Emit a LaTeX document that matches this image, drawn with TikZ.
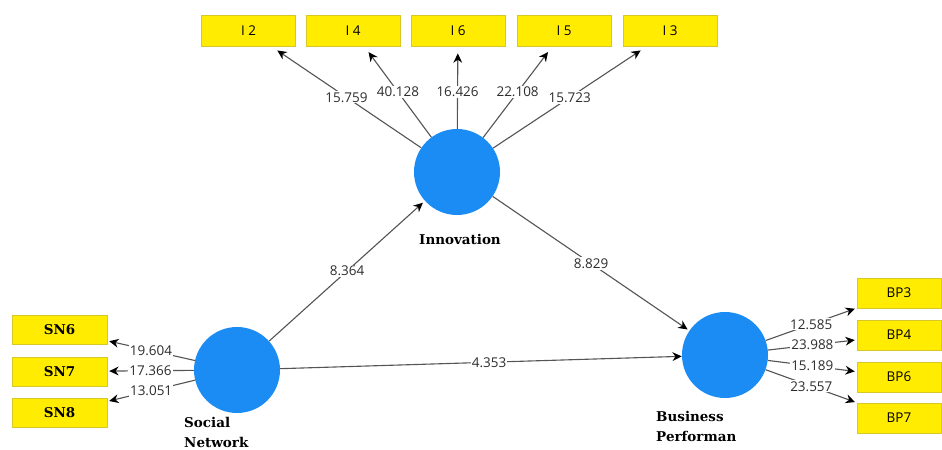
\documentclass[tikz,border=0pt]{standalone}
\usepackage{fontspec}
\setmainfont{Open Sans}
\newfontfamily\lblfont{DejaVu Serif}
\usetikzlibrary{arrows.meta}
\definecolor{boxyellow}{RGB}{255,236,0}
\definecolor{boxedge}{RGB}{215,200,40}
\definecolor{lvblue}{RGB}{28,140,245}
\definecolor{linegray}{RGB}{85,85,85}
\definecolor{valtext}{RGB}{45,45,45}
\tikzset{
  indbox/.style={draw=boxedge, fill=boxyellow, minimum width=2.82cm, minimum height=0.93cm, inner sep=0pt, font=\fontsize{11.5}{13}\selectfont},
  snbox/.style={indbox, minimum width=2.85cm, minimum height=0.88cm, font=\lblfont\bfseries\fontsize{11.5}{13}\selectfont},
  bpbox/.style={indbox, minimum width=2.52cm, minimum height=0.9cm},
  latent/.style={circle, fill=lvblue, minimum size=2.58cm, inner sep=0pt},
  conn/.style={draw=linegray, line width=0.95pt, -{Stealth[length=8pt,width=7.5pt,color=black]}},
  val/.style={fill=white, inner sep=1pt, text=valtext, font=\fontsize{11.5}{13}\selectfont},
  lvname/.style={font=\lblfont\bfseries\fontsize{11.5}{17}\selectfont, align=left, inner sep=0pt}
}
\begin{document}
\begin{tikzpicture}[x=0.03cm,y=-0.03cm]
\useasboundingbox (0,0) rectangle (942,450);
% latent variables
\node[latent] (inn) at (457,172) {};
\node[latent] (sn) at (237,370) {};
\node[latent] (bp) at (725,355) {};
\node[lvname] (innl) at (460,239) {Innovation};
\node[lvname, anchor=south west] (snl) at (184,448) {Social\\Network};
\node[lvname, anchor=south west] (bpl) at (656,442) {Business\\Performan};
% indicators
\node[indbox] (i2) at (248.5,31) {I 2};
\node[indbox] (i4) at (353,31) {I 4};
\node[indbox] (i6) at (458,31) {I 6};
\node[indbox] (i5) at (564,31) {I 5};
\node[indbox] (i3) at (670,31) {I 3};
\node[snbox] (sn6) at (59.5,330) {SN6};
\node[snbox] (sn7) at (59.5,371.5) {SN7};
\node[snbox] (sn8) at (59.5,413) {SN8};
\node[bpbox] (bp3) at (899,293) {BP3};
\node[bpbox] (bp4) at (899,335) {BP4};
\node[bpbox] (bp6) at (899,377) {BP6};
\node[bpbox] (bp7) at (899,418) {BP7};
% outer loadings
\draw[conn, shorten >=0.2cm] (inn) -- node[val]{15.759} (i2);
\draw[conn, shorten >=0.2cm] (inn) -- node[val]{40.128} (i4);
\draw[conn, shorten >=0.2cm] (inn) -- node[val, pos=0.45]{16.426} (i6);
\draw[conn, shorten >=0.2cm] (inn) -- node[val]{22.108} (i5);
\draw[conn, shorten >=0.2cm] (inn) -- node[val]{15.723} (i3);
\draw[conn, shorten >=0.06cm] (sn) -- node[val]{19.604} (sn6);
\draw[conn, shorten >=0.06cm] (sn) -- node[val]{17.366} (sn7);
\draw[conn, shorten >=0.06cm] (sn) -- node[val]{13.051} (sn8);
\draw[conn, shorten >=0.06cm] (bp) -- node[val]{12.585} (bp3);
\draw[conn, shorten >=0.06cm] (bp) -- node[val]{23.988} (bp4);
\draw[conn, shorten >=0.06cm] (bp) -- node[val]{15.189} (bp6);
\draw[conn, shorten >=0.06cm] (bp) -- node[val]{23.557} (bp7);
% structural paths
\draw[conn, shorten >=0.08cm] (sn) -- node[val]{8.364} (inn);
\draw[conn, shorten >=0.06cm] (inn) -- node[val]{8.829} (bp);
\draw[conn] (sn) -- node[val, pos=0.52]{4.353} (bp);
\end{tikzpicture}
\end{document}
